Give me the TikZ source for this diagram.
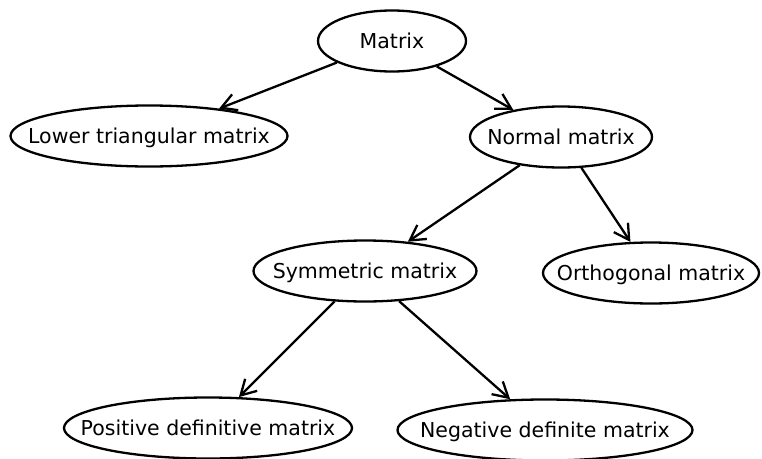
\documentclass[tikz,border=0pt]{standalone}
\usepackage{fontspec}
\setmainfont{DejaVu Sans}
\usetikzlibrary{shapes.geometric,arrows.meta}
\newcommand{\ntext}[1]{\makebox[0pt]{#1}}
\begin{document}
\begin{tikzpicture}[x=1pt,y=-1pt,
	every node/.style={ellipse,draw,line width=2.3pt,inner sep=0pt,minimum height=61pt,
		font=\fontsize{20.5}{24}\selectfont,text height=15pt,text depth=0pt}]
	\useasboundingbox (0,0) rectangle (762,458);
	\node[minimum width=148pt] (mat) at (392,41) {\ntext{Matrix}};
	\node[minimum width=277pt] (low) at (149,136) {\ntext{Lower triangular matrix}};
	\node[minimum width=182pt] (nor) at (561,137) {\ntext{Normal matrix}};
	\node[minimum width=223pt] (sym) at (365,271) {\ntext{Symmetric matrix}};
	\node[minimum width=216pt] (ort) at (651,273) {\ntext{Orthogonal matrix}};
	\node[minimum width=288pt] (pos) at (208,428) {\ntext{Positive definitive matrix}};
	\node[minimum width=295pt] (neg) at (545,430) {\ntext{Negative definite matrix}};
	\foreach \from/\to in {mat/low,mat/nor,nor/sym,nor/ort,sym/pos,sym/neg}
	\draw[-{Straight Barb[length=15pt,width=17pt]},line width=2.3pt] (\from) -- (\to);
\end{tikzpicture}
\end{document}
